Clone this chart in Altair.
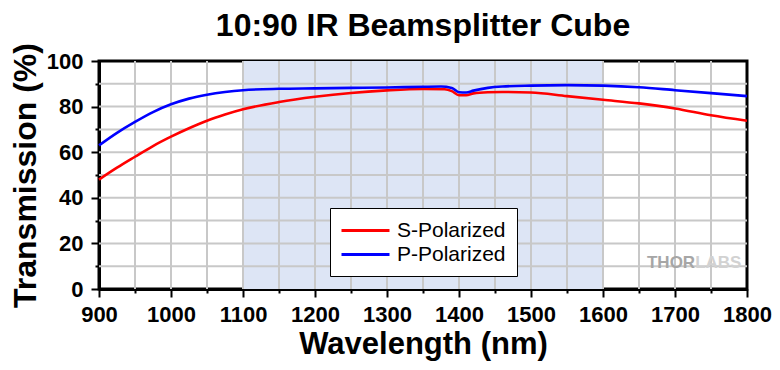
import altair as alt
import pandas as pd

# ---- data ----
wl_p = [900, 925, 950, 975, 1000, 1025, 1050, 1075, 1100, 1150, 1200, 1250, 1300, 1350,
        1375, 1390, 1400, 1410, 1420, 1440, 1460, 1500, 1550, 1600, 1650, 1700, 1750, 1800]
p_vals = [63.0, 68.5, 73.3, 77.6, 81.0, 83.5, 85.2, 86.4, 87.2, 87.8, 88.0, 88.2, 88.4, 88.7,
          88.8, 88.2, 86.3, 86.2, 87.0, 88.2, 88.8, 89.2, 89.4, 89.2, 88.5, 87.2, 85.9, 84.6]

wl_s = [900, 925, 950, 975, 1000, 1025, 1050, 1075, 1100, 1150, 1200, 1250, 1300, 1350,
        1380, 1390, 1400, 1410, 1420, 1440, 1460, 1500, 1550, 1600, 1650, 1700, 1750, 1800]
s_vals = [48.0, 53.2, 58.0, 62.7, 66.8, 70.5, 73.8, 76.5, 78.8, 82.0, 84.3, 86.0, 87.1, 87.7,
          87.6, 86.8, 85.0, 85.0, 85.8, 86.3, 86.4, 86.2, 84.6, 83.0, 81.4, 79.2, 76.2, 73.8]

series_names = ["S-Polarized", "P-Polarized"]
series_colors = ["#ff0000", "#0000ff"]

shade_start = [1100]
shade_end = [1600]
shade_low = [0]
shade_high = [100]

x_ticks = [900, 950, 1000, 1050, 1100, 1150, 1200, 1250, 1300, 1350, 1400, 1450, 1500,
           1550, 1600, 1650, 1700, 1750, 1800]
y_ticks = [0, 10, 20, 30, 40, 50, 60, 70, 80, 90, 100]
grid_x = [950, 1000, 1050, 1100, 1150, 1200, 1250, 1300, 1350, 1400, 1450, 1500,
          1550, 1600, 1650, 1700, 1750]
grid_y = [10, 20, 30, 40, 50, 60, 70, 80, 90]

logo_x = [1728]
logo_y = [11.4]

FONT = "Liberation Sans"

df = pd.concat([
    pd.DataFrame({"wl": wl_s, "T": s_vals, "series": series_names[0]}),
    pd.DataFrame({"wl": wl_p, "T": p_vals, "series": series_names[1]}),
])
shade_df = pd.DataFrame({"x0": shade_start, "x1": shade_end, "y0": shade_low, "y1": shade_high})
gx_df = pd.DataFrame({"gx": grid_x})
gy_df = pd.DataFrame({"gy": grid_y})
logo_df = pd.DataFrame({"lx": logo_x, "ly": logo_y})

xs = alt.Scale(domain=[900, 1800], nice=False, zero=False)
ys = alt.Scale(domain=[0, 100], nice=False)

x_axis = alt.Axis(
    title="Wavelength (nm)", values=x_ticks, grid=False, format="d",
    labelExpr="datum.value % 100 === 0 ? datum.label : ''",
    labelOverlap=False, labelFlush=False, labelBound=False,
    tickSize={"condition": {"test": "datum.value % 100 === 0", "value": 8}, "value": 4},
    labelPadding=7, titlePadding=4, titleFontSize=31,
)
y_axis = alt.Axis(
    title="Transmission (%)", values=y_ticks, grid=False, format="d",
    labelExpr="datum.value % 20 === 0 ? datum.label : ''",
    labelOverlap=False, labelFlush=False, labelBound=False,
    tickSize={"condition": {"test": "datum.value % 20 === 0", "value": 8}, "value": 4},
    labelPadding=8, titlePadding=4, titleFontSize=32,
)

shade = alt.Chart(shade_df).mark_rect(color="#dde5f5").encode(
    x=alt.X("x0:Q", scale=xs, axis=x_axis), x2="x1:Q",
    y=alt.Y("y0:Q", scale=ys, axis=y_axis), y2="y1:Q",
)
vgrid = alt.Chart(gx_df).mark_rule(color="#c8c8c8", strokeWidth=2).encode(
    x=alt.X("gx:Q", scale=xs, axis=x_axis)
)
hgrid = alt.Chart(gy_df).mark_rule(color="#c8c8c8", strokeWidth=2).encode(
    y=alt.Y("gy:Q", scale=ys, axis=y_axis)
)
lines = alt.Chart(df).mark_line(strokeWidth=2.6, interpolate="monotone").encode(
    x=alt.X("wl:Q", scale=xs, axis=x_axis),
    y=alt.Y("T:Q", scale=ys, axis=y_axis),
    color=alt.Color("series:N", sort=series_names,
                    scale=alt.Scale(domain=series_names, range=series_colors),
                    legend=alt.Legend(title=None, orient="none", legendX=231, legendY=147)),
    order="wl:Q",
)
thor = alt.Chart(logo_df).mark_text(text="THOR", font=FONT, fontSize=17, fontWeight="bold",
                                    color="#a6a6a6", align="right", baseline="middle").encode(
    x=alt.X("lx:Q", scale=xs, axis=x_axis), y=alt.Y("ly:Q", scale=ys, axis=y_axis))
labs = alt.Chart(logo_df).mark_text(text="LABS", font=FONT, fontSize=17, fontWeight="bold",
                                    color="#d2d2d2", align="left", baseline="middle").encode(
    x=alt.X("lx:Q", scale=xs, axis=x_axis), y=alt.Y("ly:Q", scale=ys, axis=y_axis))

chart = alt.layer(shade, vgrid, hgrid, lines, thor, labs).properties(
    width=648, height=228,
    title=alt.TitleParams("10:90 IR Beamsplitter Cube", font=FONT, fontSize=32,
                          fontWeight="bold", color="black", anchor="middle",
                          frame="group", offset=0),
    padding={"left": 91, "top": 53, "right": 25, "bottom": 72},
    autosize=alt.AutoSizeParams(type="none"),
).configure_view(
    stroke="black", strokeWidth=3
).configure_axis(
    domainColor="black", domainWidth=3, tickColor="black", tickWidth=2,
    labelFont=FONT, labelFontSize=22, labelFontWeight="bold", labelColor="black",
    titleFont=FONT, titleFontWeight="bold", titleColor="black",
).configure_legend(
    fillColor="white", strokeColor="black", padding=11,
    labelFont=FONT, labelFontSize=21, labelColor="black",
    symbolType="M-2.4,0H2.4", symbolSize=400, symbolStrokeWidth=3,
    symbolOffset=13, labelOffset=20, rowPadding=2,
)

chart.save("out.html", embed_options={"renderer": "svg", "actions": False})
